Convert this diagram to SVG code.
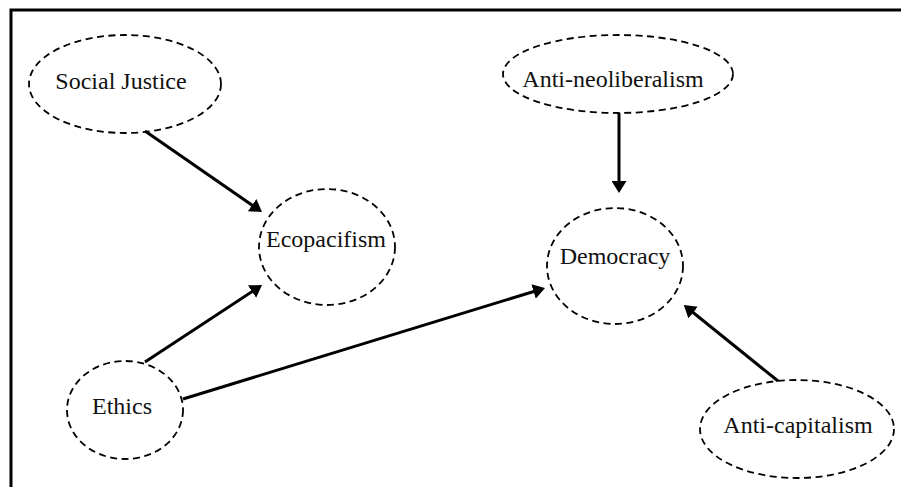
<svg xmlns="http://www.w3.org/2000/svg" width="901" height="487" viewBox="0 0 901 487">
<style>
.node ellipse{fill:none;stroke:#000;stroke-width:1.8;stroke-dasharray:7 4.5}
.node text{font-family:"Liberation Serif","Times New Roman",serif;font-size:24px;fill:#111;text-anchor:middle}
.edge{stroke:#000;stroke-width:3;fill:none;marker-end:url(#arr)}
</style>
<defs>
<marker id="arr" markerUnits="userSpaceOnUse" markerWidth="12" markerHeight="15" refX="8" refY="7.5" orient="auto">
<path d="M0,0 L12,7.5 L0,15 z" fill="#000"/>
</marker>
</defs>
<rect width="901" height="487" fill="#fff"/>
<path d="M11,487 V10 H901" fill="none" stroke="#000" stroke-width="3"/>
<g id="social-justice" class="node"><ellipse cx="125" cy="84" rx="96" ry="49"/><text x="121" y="89">Social Justice</text></g>
<g id="ecopacifism" class="node"><ellipse cx="327" cy="247" rx="68" ry="58"/><text x="326" y="247">Ecopacifism</text></g>
<g id="anti-neoliberalism" class="node"><ellipse cx="618" cy="74" rx="115" ry="39"/><text x="613" y="87">Anti-neoliberalism</text></g>
<g id="democracy" class="node"><ellipse cx="615" cy="266" rx="68" ry="58"/><text x="615" y="264">Democracy</text></g>
<g id="ethics" class="node"><ellipse cx="125" cy="410" rx="58" ry="49"/><text x="122" y="414">Ethics</text></g>
<g id="anti-capitalism" class="node"><ellipse cx="797" cy="429" rx="97" ry="49"/><text x="798" y="433">Anti-capitalism</text></g>
<g id="connectors">
<line class="edge" x1="145" y1="131" x2="258.7" y2="209.7"/>
<line class="edge" x1="619" y1="113" x2="619" y2="189"/>
<line class="edge" x1="145" y1="362" x2="258.7" y2="287.2"/>
<line class="edge" x1="183" y1="399" x2="541.2" y2="289.2"/>
<line class="edge" x1="778" y1="381" x2="686.9" y2="307.5"/>
</g>
</svg>
